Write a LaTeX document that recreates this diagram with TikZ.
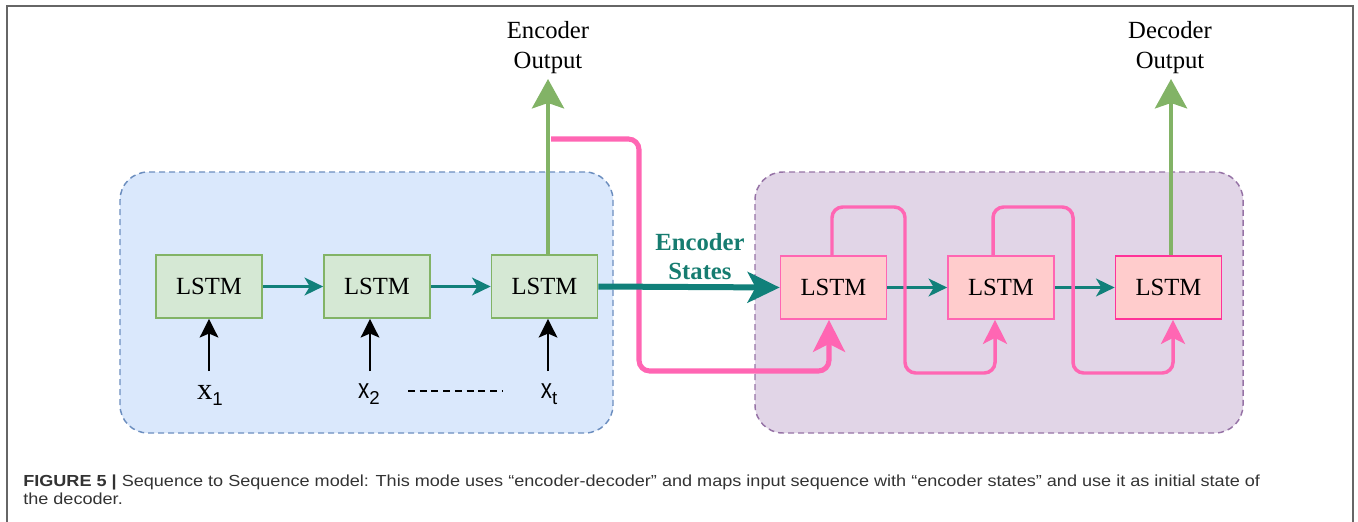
\documentclass[tikz,border=0pt]{standalone}
\usepackage{fontspec}
\setmainfont{Liberation Serif}
\newfontfamily\sansf{Liberation Sans}
\newfontfamily\capf[FakeStretch=1.13]{Liberation Sans}
\usetikzlibrary{arrows.meta}
\definecolor{encF}{HTML}{D5E8D4}
\definecolor{encB}{HTML}{82B366}
\definecolor{decF}{HTML}{FFCCCC}
\definecolor{decB}{HTML}{FF66B3}
\definecolor{decBB}{HTML}{FF3399}
\definecolor{blueF}{HTML}{DAE8FC}
\definecolor{blueB}{HTML}{6C8EBF}
\definecolor{purF}{HTML}{E1D5E7}
\definecolor{purB}{HTML}{9673A6}
\definecolor{tealc}{HTML}{11807A}
\definecolor{tealt}{HTML}{167C70}
\definecolor{greenA}{HTML}{82B366}
\definecolor{pinkA}{HTML}{FF66B3}
\definecolor{capc}{HTML}{333333}
\definecolor{framec}{HTML}{666666}
\tikzset{
  grpbox/.style={rounded corners=21pt, line width=1.1pt, dash pattern=on 4.5pt off 3pt, minimum height=195.75pt, inner sep=0pt},
  lstmbox/.style={minimum width=79.5pt, minimum height=47.25pt, inner sep=0pt, font=\fontsize{18.5pt}{20pt}\selectfont},
  encbox/.style={lstmbox, fill=encF, draw=encB, line width=1.3pt},
  decbox/.style={lstmbox, fill=decF, draw=decB, line width=1.3pt},
  tealsm/.style={draw=tealc, line width=1.6pt, -{Stealth[length=14pt, width=13.5pt, inset=4pt]}},
  tealbig/.style={draw=tealc, line width=4.5pt, -{Stealth[length=24pt, width=23pt, inset=6pt]}},
  greenarr/.style={draw=greenA, line width=3.2pt, -{Stealth[length=22pt, width=24pt, inset=4pt]}},
  inarr/.style={draw=black, line width=1.5pt, -{Stealth[length=14pt, width=14pt, inset=3pt]}},
  pinkthick/.style={draw=pinkA, line width=3.8pt, rounded corners=8pt, -{Stealth[length=24pt, width=24pt, inset=6pt]}},
  pinkloop/.style={draw=pinkA, line width=2.6pt, rounded corners=8pt, -{Stealth[length=18pt, width=18pt, inset=4.5pt]}},
  lbl/.style={inner sep=0pt, align=center, font=\fontsize{18.5pt}{22.5pt}\selectfont},
  inlbl/.style={inner sep=0pt, font=\sansf\fontsize{21pt}{21pt}\selectfont},
  captext/.style={inner sep=0pt, anchor=base west, text=capc, font=\capf\fontsize{12pt}{14pt}\selectfont}
}
\newcommand{\subsc}[1]{\raisebox{-4.5pt}{\sansf\fontsize{14pt}{14pt}\selectfont #1}}
\newcommand{\narrowx}{\scalebox{0.8}[1]{x}}
\begin{document}
\begin{tikzpicture}[x=0.75pt, y=-0.75pt]
\useasboundingbox (0,0) rectangle (1358,521);
% outer frame
\draw[framec, line width=0.8pt] (7,530) -- (7,6) -- (1353,6) -- (1353,530);
% group boxes
\node[grpbox, fill=blueF, draw=blueB, minimum width=369.75pt] (encgrp) at (366.5,302.5) {};
\node[grpbox, fill=purF, draw=purB, minimum width=366pt] (decgrp) at (999,302.5) {};
% encoder LSTM
\node[encbox] (e1) at (209,286.5) {LSTM};
\node[encbox] (e2) at (377,286.5) {LSTM};
\node[encbox] (e3) at (544.5,286.5) {LSTM};
% decoder LSTM
\node[decbox] (d1) at (833.5,287.5) {LSTM};
\node[decbox] (d2) at (1001,287.5) {LSTM};
\node[decbox, draw=decBB] (d3) at (1168.5,287.5) {LSTM};
% outputs text
\node[lbl] (encout) at (548,48) {Encoder\\Output};
\node[lbl] (decout) at (1170,48) {Decoder\\Output};
\node[lbl, text=tealt, font=\bfseries\fontsize{18.5pt}{21.75pt}\selectfont] (states) at (700,257) {Encoder\\States};
% inputs
\coordinate (i1) at (209,371);
\coordinate (i2) at (370,371);
\coordinate (i3) at (548,371);
\draw[inarr] (i1) -- (i1 |- e1.south);
\draw[inarr] (i2) -- (i2 |- e2.south);
\draw[inarr] (i3) -- (i3 |- e3.south);
\node[inlbl] (x1) at (210,395) {{\rmfamily\fontsize{23pt}{23pt}\selectfont x}\subsc{1}};
\node[inlbl] (x2) at (369,394) {\narrowx\subsc{2}};
\node[inlbl] (xt) at (549,394) {\narrowx\subsc{t}};
\coordinate (dl) at (408,391);
\coordinate (dr) at (503,391);
\draw[black, line width=2pt, dash pattern=on 5.2pt off 3.6pt] (dl) -- (dr);
% encoder horizontal arrows
\draw[tealsm] (e1) -- (e2);
\draw[tealsm] (e2) -- (e3);
% green outputs
\coordinate (eo) at (548,79);
\coordinate (do) at (1171,79);
\draw[greenarr] (e3.north -| eo) -- (eo);
\draw[greenarr] (d3.north -| do) -- (do);
% pink encoder state path
\coordinate (p0) at (551,139);
\coordinate (p1) at (639,139);
\coordinate (p2) at (639,371);
\coordinate (q1) at (829,371);
\draw[pinkthick] (p0) -- (p1) -- (p2) -- (q1) -- (q1 |- d1.south);
% teal big arrow
\draw[tealbig] (e3.east) -- (d1.west);
% decoder horizontal arrows
\draw[tealsm] (d1) -- (d2);
\draw[tealsm] (d2) -- (d3);
% pink loops
\coordinate (l1a) at (832,207);
\coordinate (l1b) at (905,373);
\coordinate (l1c) at (995,373);
\draw[pinkloop] (d1.north -| l1a) -- (l1a) -- (l1a -| l1b) -- (l1b) -- (l1c) -- (l1c |- d2.south);
\coordinate (l2a) at (993,207);
\coordinate (l2b) at (1073,373);
\coordinate (l2c) at (1173,373);
\draw[pinkloop] (d2.north -| l2a) -- (l2a) -- (l2a -| l2b) -- (l2b) -- (l2c) -- (l2c |- d3.south);
% caption
\node[captext] (cap1) at (23,486) {\textbf{FIGURE 5 |} Sequence to Sequence model: This mode uses “encoder-decoder” and maps input sequence with “encoder states” and use it as initial state of};
\node[captext] (cap2) at (23,504) {the decoder.};
\end{tikzpicture}
\end{document}
